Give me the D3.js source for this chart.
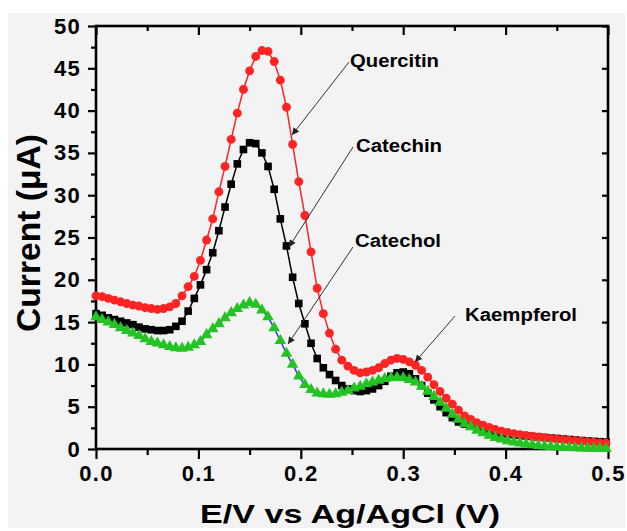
<!DOCTYPE html>
<html>
<head>
<meta charset="utf-8">
<script src="https://cdn.jsdelivr.net/npm/d3@7"></script>
<style>
  body { margin: 0; background: #ffffff; }
  svg { display: block; }
  text { font-family: "Liberation Sans", Arial, sans-serif; font-weight: bold; fill: #000; }
</style>
</head>
<body>
<script>
// potential (V) at each recorded step
const potential = [
  0, 0.006, 0.012, 0.018, 0.024, 0.03, 0.036, 0.042, 0.048, 0.054,
  0.06, 0.066, 0.072, 0.078, 0.084, 0.09, 0.096, 0.102, 0.108, 0.114,
  0.12, 0.126, 0.132, 0.138, 0.144, 0.15, 0.156, 0.162, 0.168, 0.174,
  0.18, 0.186, 0.192, 0.198, 0.204, 0.21, 0.216, 0.222, 0.228, 0.234,
  0.24, 0.246, 0.252, 0.258, 0.264, 0.27, 0.276, 0.282, 0.288, 0.294,
  0.3, 0.306, 0.312, 0.318, 0.324, 0.33, 0.336, 0.342, 0.348, 0.354,
  0.36, 0.366, 0.372, 0.378, 0.384, 0.39, 0.396, 0.402, 0.408, 0.414,
  0.42, 0.426, 0.432, 0.438, 0.444, 0.45, 0.456, 0.462, 0.468, 0.474,
  0.48, 0.486, 0.492, 0.498
];
// current (uA)
const quercitin = [
  18.1, 18.0, 17.8, 17.6, 17.4, 17.2, 17.0, 16.9, 16.7, 16.6,
  16.5, 16.6, 16.8, 17.2, 18.1, 19.2, 20.4, 22.3, 24.7, 27.2,
  30.4, 33.4, 36.6, 39.7, 42.5, 44.7, 46.4, 47.1, 47.0, 45.8,
  43.6, 40.4, 36.0, 31.6, 27.6, 23.3, 19.0, 16.0, 13.7, 11.8,
  10.5, 9.8, 9.3, 9.0, 9.1, 9.3, 9.6, 10.1, 10.5, 10.7,
  10.6, 10.3, 9.9, 9.3, 8.5, 7.6, 6.8, 6.0, 5.3, 4.6,
  3.9, 3.5, 3.1, 2.8, 2.55, 2.3, 2.1, 1.95, 1.82, 1.7,
  1.6, 1.5, 1.42, 1.34, 1.26, 1.18, 1.1, 1.03, 0.97, 0.91,
  0.85, 0.79, 0.73, 0.68
];
const catechin = [
  16.0, 15.8, 15.5, 15.3, 15.1, 14.9, 14.7, 14.4, 14.2, 14.1,
  14.0, 14.0, 14.1, 14.5, 15.1, 16.3, 17.8, 19.4, 21.2, 23.2,
  25.8, 28.6, 31.3, 33.7, 35.4, 36.2, 36.1, 35.0, 33.4, 30.7,
  27.2, 24.0, 20.3, 17.2, 14.8, 12.5, 10.7, 9.6, 8.8, 8.1,
  7.5, 7.1, 6.9, 6.8, 6.9, 7.1, 7.5, 8.0, 8.6, 9.0,
  9.1, 8.9, 8.3, 7.5, 6.6, 5.8, 5.0, 4.3, 3.7, 3.2,
  2.95, 2.7, 2.5, 2.35, 2.2, 2.05, 1.9, 1.8, 1.7, 1.62,
  1.55, 1.48, 1.42, 1.36, 1.3, 1.24, 1.18, 1.12, 1.06, 1.0,
  0.95, 0.9, 0.86, 0.82
];
const catechol = [
  15.6, 15.3, 15.0, 14.7, 14.3, 14.0, 13.7, 13.4, 13.0, 12.7,
  12.5, 12.3, 12.1, 11.95, 11.9, 12.0, 12.3, 12.7, 13.5, 14.2,
  14.8, 15.5, 16.1, 16.6, 17.0, 17.3, 17.1, 16.4, 15.6, 14.3,
  12.8, 11.3, 10.0, 8.6, 7.6, 7.0, 6.6, 6.5, 6.45, 6.5,
  6.7, 6.9, 7.2, 7.4, 7.7, 7.9, 8.1, 8.3, 8.4, 8.45,
  8.4, 8.2, 7.9, 7.4, 6.8, 6.2, 5.5, 4.8, 4.1, 3.5,
  3.0, 2.6, 2.2, 1.9, 1.6, 1.35, 1.15, 0.95, 0.8, 0.68,
  0.58, 0.48, 0.4, 0.33, 0.27, 0.22, 0.18, 0.15, 0.12, 0.1,
  0.08, 0.07, 0.06, 0.05
];
const xTicks = [0, 0.1, 0.2, 0.3, 0.4, 0.5];
const xMinor = [0.05, 0.15, 0.25, 0.35, 0.45];
const yTicks = [0, 5, 10, 15, 20, 25, 30, 35, 40, 45, 50];
const yMinor = [2.5, 7.5, 12.5, 17.5, 22.5, 27.5, 32.5, 37.5, 42.5, 47.5];
const labels = ["Quercitin", "Catechin", "Catechol", "Kaempferol"];

const w = 627, h = 531;
const pLeft = 96, pRight = 608, pTop = 26, pBottom = 449;

const svg = d3.select("body").append("svg").attr("width", w).attr("height", h);

//background
svg.append("rect").attr("x", 8).attr("y", 13).attr("width", 617).attr("height", 515).attr("fill", "#f3f3f3");

const x = d3.scaleLinear().domain([0, 0.5]).range([pLeft, pRight]);
const y = d3.scaleLinear().domain([0, 50]).range([pBottom, pTop]);

//axes
function axisG(axis, tx, ty) {
  const g = svg.append("g").attr("transform", "translate(" + tx + "," + ty + ")").call(axis);
  g.select(".domain").remove();
  g.selectAll("line").attr("stroke", "#000").attr("stroke-width", 2.2);
  return g;
}
axisG(d3.axisLeft(y).tickValues(yTicks).tickSize(8).tickPadding(7).tickFormat(d3.format("d")), pLeft, 0);
axisG(d3.axisLeft(y).tickValues(yMinor).tickSize(5).tickFormat(""), pLeft, 0);
axisG(d3.axisBottom(x).tickValues(xTicks).tickSize(10).tickPadding(6).tickFormat(d3.format(".1f")), 0, pBottom);
axisG(d3.axisBottom(x).tickValues(xMinor).tickSize(6).tickFormat(""), 0, pBottom);
axisG(d3.axisTop(x).tickValues(xTicks).tickSize(-9).tickFormat(""), 0, pTop);
axisG(d3.axisTop(x).tickValues(xMinor).tickSize(-5).tickFormat(""), 0, pTop);
axisG(d3.axisRight(y).tickValues(yTicks).tickSize(-6).tickFormat(""), pRight, 0);

svg.selectAll(".tick text")
  .style("font-family", "'Liberation Sans', Arial, sans-serif")
  .style("font-weight", "bold")
  .style("font-size", "22px")
  .style("letter-spacing", "1.3px")
  .attr("fill", "#000");

svg.append("rect")
  .attr("x", pLeft).attr("y", pTop)
  .attr("width", pRight - pLeft).attr("height", pBottom - pTop)
  .attr("fill", "none").attr("stroke", "#000").attr("stroke-width", 2.6);

//curves
const series = [
  { name: "Catechin", vals: catechin, color: "#000000", line: "#000000", shape: d3.symbolSquare, size: 58 },
  { name: "Quercitin", vals: quercitin, color: "#ff2424", line: "#ff2424", shape: d3.symbolCircle, size: 62 },
  { name: "Catechol", vals: catechol, color: "#22c322", line: "#2a3cf0", shape: d3.symbolTriangle, size: 58 }
];
const line = d3.line().x((d) => x(d[0])).y((d) => y(d[1]));

series.forEach(function (s) {
  const pts = potential.map((v, i) => [v, s.vals[i]]);
  svg.append("path")
    .datum(pts)
    .attr("d", line)
    .attr("fill", "none")
    .attr("stroke", s.line)
    .attr("stroke-width", 1.5);
  svg.append("g").selectAll("path")
    .data(pts)
    .enter()
    .append("path")
    .attr("transform", (d) => "translate(" + x(d[0]) + "," + y(d[1]) + ")")
    .attr("d", d3.symbol().type(s.shape).size(s.size))
    .attr("fill", s.color);
});

//annotations
svg.append("defs").append("marker")
  .attr("id", "arrow")
  .attr("viewBox", "0 0 10 10")
  .attr("refX", 10).attr("refY", 5)
  .attr("markerWidth", 9).attr("markerHeight", 7)
  .attr("markerUnits", "userSpaceOnUse")
  .attr("orient", "auto")
  .append("path")
  .attr("d", "M0,0 L10,5 L0,10 Z")
  .attr("fill", "#222");

const notes = [
  { text: labels[0], tx: 350, ty: 67, len: 89, x1: 349, y1: 62, x2: 292, y2: 135 },
  { text: labels[1], tx: 356, ty: 152, len: 86, x1: 353, y1: 147, x2: 289, y2: 247 },
  { text: labels[2], tx: 355, ty: 247, len: 86, x1: 353, y1: 247, x2: 288, y2: 344 },
  { text: labels[3], tx: 465, ty: 321, len: 112, x1: 455, y1: 316, x2: 415, y2: 362 }
];
notes.forEach(function (n) {
  svg.append("line")
    .attr("x1", n.x1).attr("y1", n.y1).attr("x2", n.x2).attr("y2", n.y2)
    .attr("stroke", "#333").attr("stroke-width", 1)
    .attr("marker-end", "url(#arrow)");
  svg.append("text")
    .attr("x", n.tx).attr("y", n.ty)
    .attr("textLength", n.len)
    .attr("lengthAdjust", "spacingAndGlyphs")
    .style("font-size", "18px")
    .text(n.text);
});

//axis titles
svg.append("text")
  .attr("x", 350).attr("y", 523)
  .attr("text-anchor", "middle")
  .attr("textLength", 300)
  .attr("lengthAdjust", "spacingAndGlyphs")
  .style("font-size", "25px")
  .text("E/V vs Ag/AgCl (V)");

svg.append("text")
  .attr("transform", "translate(40,233) rotate(-90)")
  .attr("text-anchor", "middle")
  .attr("textLength", 198)
  .attr("lengthAdjust", "spacingAndGlyphs")
  .style("font-size", "33px")
  .text("Current (\u03bcA)");
</script>
</body>
</html>
